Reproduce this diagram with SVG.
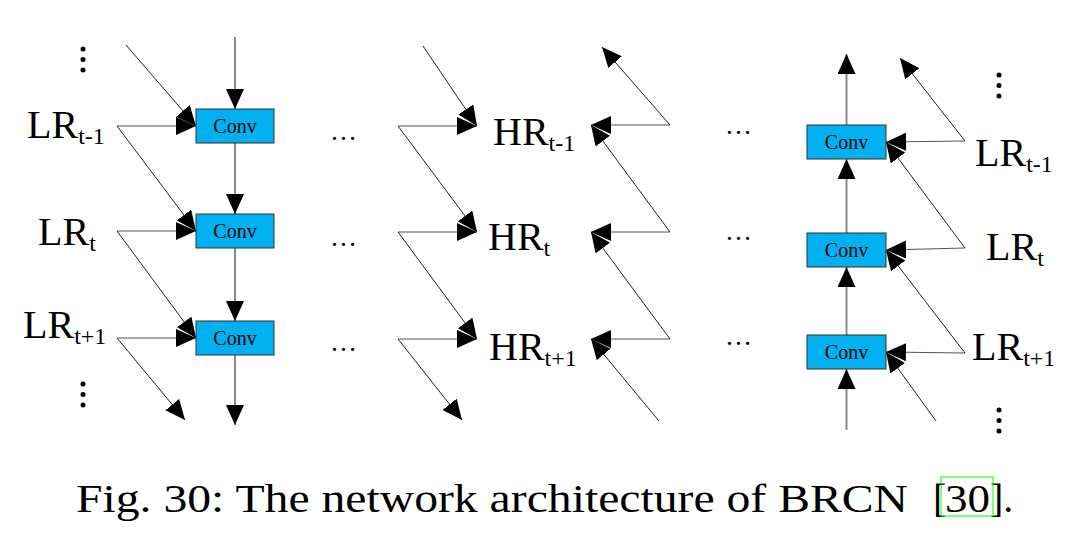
<svg xmlns="http://www.w3.org/2000/svg" width="1076" height="558" viewBox="0 0 1076 558">
<style>
.box{fill:#00b0f0;stroke:#333;stroke-width:1}
.ct{font-family:'Liberation Serif','Times New Roman',serif;font-size:20px;text-anchor:middle;fill:#000}
.lb{font-family:'Liberation Serif','Times New Roman',serif;font-size:40px;fill:#000}
.sb{font-size:24px}
.el{font-family:'Liberation Serif','Times New Roman',serif;font-size:27px;fill:#000}
.v{stroke:#8a8a8a;stroke-width:2;fill:none}
.h{stroke:#555;stroke-width:1.2;fill:none}
.d{stroke:#222;stroke-width:1;fill:none}
.cap{font-family:'Liberation Serif','Times New Roman',serif;font-size:40px;fill:#000}
</style>
<defs>
<marker id="ah" markerUnits="userSpaceOnUse" markerWidth="20" markerHeight="18" refX="20" refY="9" orient="auto" viewBox="0 0 20 18">
<path d="M0,0 L20,9 L0,18 z" fill="#000"/>
</marker>
</defs>
<rect width="1076" height="558" fill="#fff"/>
<g id="connectors">
<line class="v" x1="235" y1="37" x2="235" y2="109" marker-end="url(#ah)"/>
<line class="v" x1="235" y1="143" x2="235" y2="214" marker-end="url(#ah)"/>
<line class="v" x1="235" y1="248" x2="235" y2="321" marker-end="url(#ah)"/>
<line class="v" x1="235" y1="355" x2="235" y2="425" marker-end="url(#ah)"/>
<line class="d" x1="126" y1="45" x2="196" y2="126" marker-end="url(#ah)"/>
<line class="h" x1="117" y1="126" x2="196" y2="126" marker-end="url(#ah)"/>
<line class="d" x1="117" y1="126" x2="196" y2="231" marker-end="url(#ah)"/>
<line class="h" x1="117" y1="231" x2="196" y2="231" marker-end="url(#ah)"/>
<line class="d" x1="117" y1="231" x2="196" y2="338" marker-end="url(#ah)"/>
<line class="h" x1="117" y1="338" x2="196" y2="338" marker-end="url(#ah)"/>
<line class="d" x1="117" y1="338" x2="185" y2="420" marker-end="url(#ah)"/>
<line class="d" x1="423" y1="46" x2="477" y2="126" marker-end="url(#ah)"/>
<line class="h" x1="398" y1="126" x2="477" y2="126" marker-end="url(#ah)"/>
<line class="d" x1="398" y1="126" x2="477" y2="232" marker-end="url(#ah)"/>
<line class="h" x1="398" y1="232" x2="477" y2="232" marker-end="url(#ah)"/>
<line class="d" x1="398" y1="232" x2="477" y2="339" marker-end="url(#ah)"/>
<line class="h" x1="398" y1="339" x2="477" y2="339" marker-end="url(#ah)"/>
<line class="d" x1="398" y1="339" x2="462" y2="420" marker-end="url(#ah)"/>
<line class="h" x1="670" y1="125" x2="591" y2="125" marker-end="url(#ah)"/>
<line class="h" x1="670" y1="232" x2="591" y2="232" marker-end="url(#ah)"/>
<line class="h" x1="670" y1="339" x2="591" y2="339" marker-end="url(#ah)"/>
<line class="d" x1="670" y1="125" x2="602" y2="47" marker-end="url(#ah)"/>
<line class="d" x1="670" y1="232" x2="591" y2="125" marker-end="url(#ah)"/>
<line class="d" x1="670" y1="339" x2="591" y2="232" marker-end="url(#ah)"/>
<line class="d" x1="659" y1="421" x2="591" y2="339" marker-end="url(#ah)"/>
<line class="v" x1="846.5" y1="430" x2="846.5" y2="369" marker-end="url(#ah)"/>
<line class="v" x1="846.5" y1="335" x2="846.5" y2="267" marker-end="url(#ah)"/>
<line class="v" x1="846.5" y1="233" x2="846.5" y2="159" marker-end="url(#ah)"/>
<line class="v" x1="846.5" y1="125" x2="846.5" y2="54" marker-end="url(#ah)"/>
<line class="h" x1="965" y1="141" x2="886" y2="142" marker-end="url(#ah)"/>
<line class="h" x1="965" y1="248" x2="886" y2="250" marker-end="url(#ah)"/>
<line class="h" x1="965" y1="353" x2="886" y2="352" marker-end="url(#ah)"/>
<line class="d" x1="965" y1="141" x2="900" y2="58" marker-end="url(#ah)"/>
<line class="d" x1="965" y1="248" x2="886" y2="142" marker-end="url(#ah)"/>
<line class="d" x1="965" y1="353" x2="886" y2="250" marker-end="url(#ah)"/>
<line class="d" x1="936" y1="421" x2="886" y2="352" marker-end="url(#ah)"/>
</g>
<g id="conv-l1"><rect class="box" x="196" y="109" width="78" height="34"/><text class="ct" x="235" y="133">Conv</text></g>
<g id="conv-l2"><rect class="box" x="196" y="214" width="78" height="34"/><text class="ct" x="235" y="238">Conv</text></g>
<g id="conv-l3"><rect class="box" x="196" y="321" width="78" height="34"/><text class="ct" x="235" y="345">Conv</text></g>
<g id="conv-r1"><rect class="box" x="807" y="125" width="79" height="34"/><text class="ct" x="846.5" y="149">Conv</text></g>
<g id="conv-r2"><rect class="box" x="807" y="233" width="79" height="34"/><text class="ct" x="846.5" y="257">Conv</text></g>
<g id="conv-r3"><rect class="box" x="807" y="335" width="79" height="34"/><text class="ct" x="846.5" y="359">Conv</text></g>
<g id="lr-left">
<text class="lb" x="27" y="138">LR<tspan class="sb" dy="6">t-1</tspan></text>
<text class="lb" x="38" y="245">LR<tspan class="sb" dy="6">t</tspan></text>
<text class="lb" x="23" y="338">LR<tspan class="sb" dy="6">t+1</tspan></text>
</g>
<g id="hr">
<text class="lb" x="493" y="145">HR<tspan class="sb" dy="6">t-1</tspan></text>
<text class="lb" x="488" y="250">HR<tspan class="sb" dy="6">t</tspan></text>
<text class="lb" x="489" y="360">HR<tspan class="sb" dy="6">t+1</tspan></text>
</g>
<g id="lr-right">
<text class="lb" x="975" y="166">LR<tspan class="sb" dy="6">t-1</tspan></text>
<text class="lb" x="986" y="260">LR<tspan class="sb" dy="6">t</tspan></text>
<text class="lb" x="972" y="360">LR<tspan class="sb" dy="6">t+1</tspan></text>
</g>
<g id="ellipses">
<text class="el" x="330" y="140">…</text>
<text class="el" x="330" y="246">…</text>
<text class="el" x="330" y="351">…</text>
<text class="el" x="725" y="134">…</text>
<text class="el" x="725" y="240">…</text>
<text class="el" x="725" y="345">…</text>
<g fill="#000">
<circle cx="83" cy="49" r="2.5"/><circle cx="83" cy="59.5" r="2.5"/><circle cx="83" cy="70" r="2.5"/>
<circle cx="83" cy="384" r="2.5"/><circle cx="83" cy="394.5" r="2.5"/><circle cx="83" cy="405" r="2.5"/>
<circle cx="999" cy="75" r="2.5"/><circle cx="999" cy="85.5" r="2.5"/><circle cx="999" cy="96" r="2.5"/>
<circle cx="999" cy="410" r="2.5"/><circle cx="999" cy="420.5" r="2.5"/><circle cx="999" cy="431" r="2.5"/>
</g>
</g>
<g id="caption">
<text class="cap" x="76" y="512" textLength="832" lengthAdjust="spacingAndGlyphs">Fig. 30: The network architecture of BRCN</text>
<text class="cap" x="933" y="512">[</text>
<text class="cap" x="945" y="512" textLength="45" lengthAdjust="spacingAndGlyphs">30</text>
<text class="cap" x="990" y="512">].</text>
<rect x="941" y="477" width="52" height="39" fill="none" stroke="#00ff00" stroke-width="1"/>
</g>
</svg>
